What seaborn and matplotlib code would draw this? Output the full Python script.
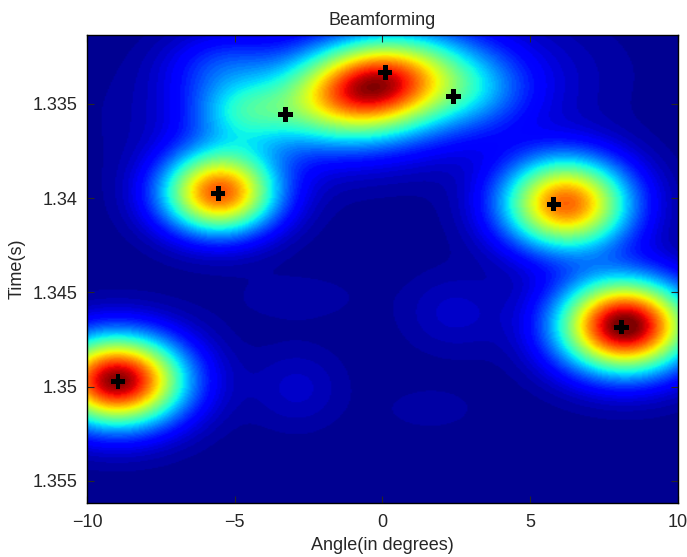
import numpy as np
import pandas as pd
import matplotlib
matplotlib.use("Agg")
import matplotlib.pyplot as plt
from matplotlib.ticker import FuncFormatter
import seaborn as sns

# Picos do mapa de beamforming (angulo, tempo, nivel, largura, inclinacao)
peak_angle = [-0.3, -0.5, -4.7, 3.2, -4.9, -5.55, 6.2, 8.2, -9.0, -5.5, 2.4, -2.9, -2.9, 1.6]
peak_time = [1.3340, 1.3346, 1.3354, 1.3343, 1.3372, 1.33975, 1.3403, 1.3468, 1.3497,
             1.3330, 1.3461, 1.3501, 1.3453, 1.3512]
peak_level = [0.68, 0.30, 0.19, 0.10, 0.04, 0.78, 0.78, 1.0, 0.97, 0.12, 0.05, 0.05,
              0.025, 0.025]
width_angle = [1.8, 3.6, 1.2, 1.2, 1.2, 1.35, 1.5, 1.55, 1.55, 1.3, 1.2, 1.1, 1.5, 1.1]
width_time = [0.0017, 0.0022, 0.0011, 0.0014, 0.0012, 0.0015, 0.0017, 0.0017, 0.00165,
              0.0013, 0.0015, 0.0015, 0.0009, 0.0008]
peak_tilt = [-0.2, -0.2, 0, 0, 0, 0, 0, 0, 0, 0, 0, 0, 0, 0]
fundo = 0.018

# Direcoes detectadas (cruzes)
marker_angle = [0.09, 2.41, -3.29, -5.56, 5.80, 8.08, -8.95]
marker_time = [1.33334, 1.33461, 1.33557, 1.33975, 1.34032, 1.34684, 1.34972]

angle_lim = (-10, 10)
time_lim = (1.33134, 1.35617)

# Monta o mapa a partir dos picos
ang = np.linspace(angle_lim[0], angle_lim[1], 400)
tim = np.linspace(time_lim[0], time_lim[1], 400)
A, T = np.meshgrid(ang, tim)
mapa = np.full_like(A, fundo)
for a0, t0, lv, wa, wt, rho in zip(peak_angle, peak_time, peak_level, width_angle,
                                   width_time, peak_tilt):
    u = (A - a0) / wa
    v = (T - t0) / wt
    mapa += lv * np.exp(-(u ** 2 - 2 * rho * u * v + v ** 2) / (2 * (1 - rho ** 2)))

df = pd.DataFrame({'angulo': marker_angle, 'tempo': marker_time})

sns.set_style("ticks")
plt.rcParams['font.family'] = ['Liberation Sans', 'DejaVu Sans']
plt.rcParams['font.size'] = 13

fig = plt.figure(figsize=(6.87, 5.57), dpi=100)
ax = fig.add_axes([0.1266, 0.097, 0.8603, 0.8403])

ax.imshow(mapa, cmap=plt.get_cmap('jet', 64), vmin=0, vmax=1.0, aspect='auto',
          extent=(angle_lim[0], angle_lim[1], time_lim[1], time_lim[0]),
          origin='upper', interpolation='bilinear')

sns.scatterplot(data=df, x='angulo', y='tempo', marker='P', s=110, color='black',
                edgecolor='none', ax=ax, zorder=5)

ax.set_xlim(angle_lim)
ax.set_ylim(time_lim[1], time_lim[0])
ax.set_xticks([-10, -5, 0, 5, 10])
ax.set_yticks([1.335, 1.34, 1.345, 1.35, 1.355])
ax.yaxis.set_major_formatter(FuncFormatter(lambda v, p: f'{v:g}'))
ax.tick_params(direction='in', length=5, width=0.8, top=True, right=True, labelsize=13)
ax.tick_params(axis='x', pad=8)
ax.tick_params(axis='y', pad=7)
for s in ax.spines.values():
    s.set_linewidth(1.0)
    s.set_color('black')

ax.set_title('Beamforming', fontsize=13, pad=7)
ax.set_xlabel('Angle(in degrees)', fontsize=13, labelpad=4)
ax.set_ylabel('Time(s)', fontsize=13, labelpad=5)

plt.savefig('out.png', dpi=100)
